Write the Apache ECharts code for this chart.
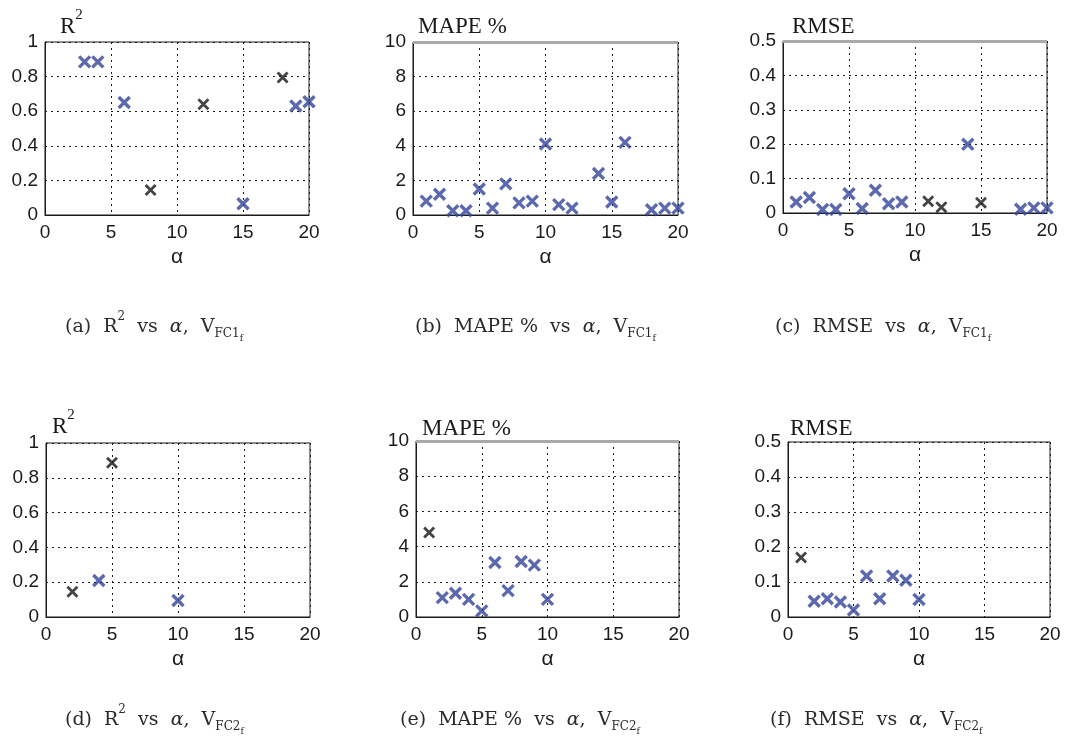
<!DOCTYPE html>
<html>
<head>
<meta charset="utf-8">
<script src="https://cdn.jsdelivr.net/npm/echarts@6/dist/echarts.min.js"></script>
<style>
  html, body { margin: 0; padding: 0; background: #ffffff; }
  #chart { width: 1071px; height: 756px; }
</style>
</head>
<body>
<div id="chart"></div>
<script>
// Axis ranges: [min, max, interval]
const alphaRange = [0, 20, 5];
const r2Range = [0, 1, 0.2];
const mapeRange = [0, 10, 2];
const rmseRange = [0, 0.5, 0.1];

// V_FC1f results: [alpha, value]
const fc1R2Blue = [[3, 0.885], [4, 0.885], [6, 0.65], [15, 0.065], [19, 0.63], [20, 0.655]];
const fc1R2Black = [[8, 0.145], [12, 0.64], [18, 0.795]];
const fc1MapeBlue = [[1, 0.8], [2, 1.2], [3, 0.25], [4, 0.25], [5, 1.5], [6, 0.4], [7, 1.8], [8, 0.7],
                     [9, 0.8], [10, 4.1], [11, 0.6], [12, 0.4], [14, 2.4], [15, 0.75], [16, 4.2],
                     [18, 0.3], [19, 0.4], [20, 0.4]];
const fc1MapeBlack = [];
const fc1RmseBlue = [[1, 0.032], [2, 0.045], [3, 0.01], [4, 0.01], [5, 0.056], [6, 0.013], [7, 0.066],
                     [8, 0.027], [9, 0.032], [14, 0.2], [18, 0.011], [19, 0.015], [20, 0.015]];
const fc1RmseBlack = [[11, 0.034], [12, 0.017], [15, 0.03]];

// V_FC2f results: [alpha, value]
const fc2R2Blue = [[4, 0.21], [10, 0.095]];
const fc2R2Black = [[2, 0.145], [5, 0.887]];
const fc2MapeBlue = [[2, 1.1], [3, 1.35], [4, 1.0], [5, 0.35], [6, 3.1], [7, 1.5], [8, 3.15], [9, 2.95], [10, 1.0]];
const fc2MapeBlack = [[1, 4.8]];
const fc2RmseBlue = [[2, 0.045], [3, 0.052], [4, 0.043], [5, 0.02], [6, 0.117], [7, 0.052], [8, 0.117], [9, 0.105], [10, 0.05]];
const fc2RmseBlack = [[1, 0.17]];

const BLUE = '#34449a';
const BLACK = '#151515';
const crossPath = 'path://M0,0L10,10M10,0L0,10';

// Panel layout (plot boxes in px)
const panels = [
  { box: [45, 42, 264, 173], y: r2Range,   blue: fc1R2Blue,   black: fc1R2Black,   title: '{t|R}{ts|2}',   tx: 60,  ty: 8,   grayTop: false },
  { box: [413, 42, 265, 173], y: mapeRange, blue: fc1MapeBlue, black: fc1MapeBlack, title: '{t|MAPE %}', tx: 418, ty: 8, grayTop: true },
  { box: [783, 41, 264, 172], y: rmseRange, blue: fc1RmseBlue, black: fc1RmseBlack, title: '{t|RMSE}',   tx: 792, ty: 8, grayTop: true },
  { box: [46, 443, 264, 174], y: r2Range,   blue: fc2R2Blue,   black: fc2R2Black,   title: '{t|R}{ts|2}',   tx: 52,  ty: 408, grayTop: false },
  { box: [416, 441, 263, 176], y: mapeRange, blue: fc2MapeBlue, black: fc2MapeBlack, title: '{t|MAPE %}', tx: 422, ty: 410, grayTop: true },
  { box: [788, 442, 262, 175], y: rmseRange, blue: fc2RmseBlue, black: fc2RmseBlack, title: '{t|RMSE}',   tx: 790, ty: 410, grayTop: false }
];

const captions = [
  { text: '(a)  R{sup|2}  vs  {it|α},  V{sub|FC1}{sub2|f}', x: 65,  y: 311 },
  { text: '(b)  MAPE %  vs  {it|α},  V{sub|FC1}{sub2|f}',   x: 415, y: 311 },
  { text: '(c)  RMSE  vs  {it|α},  V{sub|FC1}{sub2|f}',     x: 775, y: 311 },
  { text: '(d)  R{sup|2}  vs  {it|α},  V{sub|FC2}{sub2|f}', x: 65,  y: 704 },
  { text: '(e)  MAPE %  vs  {it|α},  V{sub|FC2}{sub2|f}',   x: 400, y: 704 },
  { text: '(f)  RMSE  vs  {it|α},  V{sub|FC2}{sub2|f}',     x: 770, y: 704 }
];

const tickFont = { fontFamily: 'Liberation Sans', fontSize: 19, color: '#1a1a1a' };
const splitStyle = { show: true, lineStyle: { color: '#1a1a1a', width: 1, type: [2, 4] } };
const capFont = 'DejaVu Serif';
const capColor = '#2a2a2a';

const grid = [], xAxis = [], yAxis = [], series = [], title = [];

panels.forEach((p, i) => {
  grid.push({
    left: p.box[0], top: p.box[1], width: p.box[2], height: p.box[3],
    show: true, borderColor: '#1a1a1a', borderWidth: 1, backgroundColor: '#fff'
  });
  xAxis.push({
    gridIndex: i, type: 'value',
    min: alphaRange[0], max: alphaRange[1], interval: alphaRange[2],
    axisLine: { show: true, onZero: false, lineStyle: { color: '#1a1a1a', width: 1 } },
    axisTick: { show: false },
    axisLabel: Object.assign({ margin: 8 }, tickFont),
    splitLine: splitStyle,
    name: 'α', nameLocation: 'middle', nameGap: 32,
    nameTextStyle: { fontFamily: 'Liberation Sans', fontSize: 21, color: '#1a1a1a' }
  });
  yAxis.push({
    gridIndex: i, type: 'value',
    min: p.y[0], max: p.y[1], interval: p.y[2],
    axisLine: { show: true, onZero: false, lineStyle: { color: '#1a1a1a', width: 1 } },
    axisTick: { show: false },
    axisLabel: Object.assign({ margin: 7 }, tickFont),
    splitLine: splitStyle
  });
  const blueSeries = {
    type: 'scatter', xAxisIndex: i, yAxisIndex: i,
    data: p.blue, symbol: crossPath, symbolSize: 11,
    itemStyle: { color: 'transparent', borderColor: BLUE, borderWidth: 3.4 },
    silent: true, z: 3
  };
  if (p.grayTop) {
    blueSeries.markLine = {
      silent: true, symbol: 'none', animation: false,
      label: { show: false },
      lineStyle: { color: '#a9a9a9', width: 3, type: 'solid' },
      data: [{ yAxis: p.y[1] }]
    };
  }
  series.push(blueSeries);
  series.push({
    type: 'scatter', xAxisIndex: i, yAxisIndex: i,
    data: p.black, symbol: crossPath, symbolSize: 10,
    itemStyle: { color: 'transparent', borderColor: BLACK, borderWidth: 2.8 },
    silent: true, z: 4
  });
  title.push({
    text: p.title, left: p.tx, top: p.ty, padding: 0,
    textStyle: {
      fontWeight: 'normal',
      rich: {
        t: { fontFamily: 'Liberation Serif', fontWeight: 'normal', fontSize: 23, color: '#1a1a1a', lineHeight: 30, verticalAlign: 'bottom' },
        ts: { fontFamily: 'Liberation Serif', fontWeight: 'normal', fontSize: 15, color: '#1a1a1a', lineHeight: 20, verticalAlign: 'top' }
      }
    }
  });
});

captions.forEach(c => {
  title.push({
    text: c.text, left: c.x, top: c.y, padding: 0,
    textStyle: {
      fontFamily: capFont, fontSize: 19, fontWeight: 'normal', color: capColor, lineHeight: 32,
      rich: {
        sup: { fontFamily: capFont, fontSize: 12, color: capColor, lineHeight: 17, verticalAlign: 'top' },
        it: { fontFamily: capFont, fontStyle: 'italic', fontSize: 19, color: capColor, lineHeight: 32 },
        sub: { fontFamily: capFont, fontSize: 12, color: capColor, lineHeight: 16, verticalAlign: 'bottom', padding: [0, 0, 3, 0] },
        sub2: { fontFamily: capFont, fontSize: 9, color: capColor, lineHeight: 10, verticalAlign: 'bottom' }
      }
    }
  });
});

const chart = echarts.init(document.getElementById('chart'), null, { renderer: 'canvas' });
chart.setOption({
  animation: false,
  backgroundColor: '#ffffff',
  title, grid, xAxis, yAxis, series
});
</script>
</body>
</html>
